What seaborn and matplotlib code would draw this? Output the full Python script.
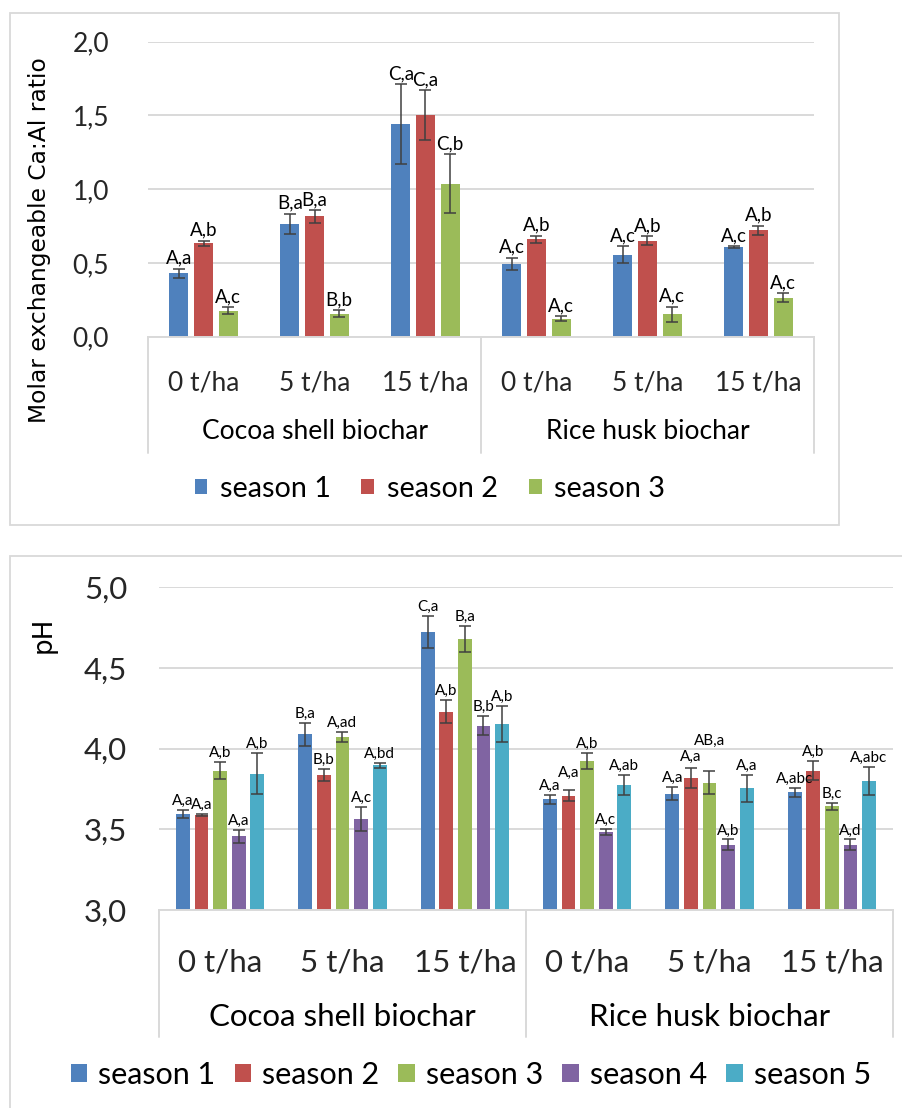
import matplotlib
matplotlib.use("Agg")
import matplotlib.pyplot as plt
import matplotlib.transforms as mtransforms
from matplotlib import font_manager
from matplotlib.patches import Rectangle, Patch
import matplotlib.colors as mcolors
import seaborn as sns
import pandas as pd
import numpy as np

# ---------------------------------------------------------------- data
doses = ["0 t/ha", "5 t/ha", "15 t/ha"]
biochars = ["Cocoa shell biochar", "Rice husk biochar"]
seasons = ["season 1", "season 2", "season 3", "season 4", "season 5"]

# Molar exchangeable Ca:Al ratio, rows = biochar x dose, cols = season 1..3
caal_mean = [
    [0.43, 0.634, 0.175],
    [0.763, 0.815, 0.156],
    [1.442, 1.503, 1.037],
    [0.494, 0.661, 0.122],
    [0.555, 0.652, 0.152],
    [0.607, 0.720, 0.265],
]
caal_err = [
    [0.030, 0.018, 0.023],
    [0.070, 0.043, 0.023],
    [0.270, 0.167, 0.200],
    [0.040, 0.023, 0.018],
    [0.057, 0.030, 0.050],
    [0.008, 0.032, 0.028],
]
caal_letters = [
    ["A,a", "A,b", "A,c"],
    ["B,a", "B,a", "B,b"],
    ["C,a", "C,a", "C,b"],
    ["A,c", "A,b", "A,c"],
    ["A,c", "A,b", "A,c"],
    ["A,c", "A,b", "A,c"],
]

# Soil pH, rows = biochar x dose, cols = season 1..5
ph_mean = [
    [3.597, 3.591, 3.862, 3.457, 3.845],
    [4.089, 3.835, 4.072, 3.564, 3.897],
    [4.723, 4.229, 4.678, 4.143, 4.153],
    [3.686, 3.709, 3.924, 3.484, 3.773],
    [3.721, 3.816, 3.789, 3.405, 3.754],
    [3.730, 3.862, 3.643, 3.405, 3.800],
]
ph_err = [
    [0.024, 0.006, 0.053, 0.040, 0.127],
    [0.072, 0.038, 0.032, 0.072, 0.016],
    [0.100, 0.071, 0.080, 0.058, 0.114],
    [0.029, 0.033, 0.050, 0.019, 0.063],
    [0.039, 0.062, 0.072, 0.032, 0.082],
    [0.029, 0.059, 0.023, 0.032, 0.088],
]
ph_letters = [
    ["A,a", "A,a", "A,b", "A,a", "A,b"],
    ["B,a", "B,b", "A,ad", "A,c", "A,bd"],
    ["C,a", "A,b", "B,a", "B,b", "A,b"],
    ["A,a", "A,a", "A,b", "A,c", "A,ab"],
    ["A,a", "A,a", "AB,a", "A,b", "A,a"],
    ["A,abc", "A,b", "B,c", "A,d", "A,abc"],
]

palette = ["#4F81BD", "#C0504D", "#9BBB59", "#8064A2", "#4BACC6"]

# ---------------------------------------------------------------- style
sns.set_theme(style="white")


def pick(*names):
    have = {f.name for f in font_manager.fontManager.ttflist}
    for n in names:
        if n in have:
            return n
    return "DejaVu Sans"


BODY = pick("Lato", "Open Sans")
NARROW = pick("Liberation Sans Narrow")
plt.rcParams["font.family"] = [BODY, "DejaVu Sans"]
plt.rcParams["text.color"] = "black"

GRID = "#D9D9D9"
ERR = "#404040"

W, H = 903, 1108
fig = plt.figure(figsize=(W / 100, H / 100), dpi=100)


def fx(px):
    return px / W


def fy(py):
    return 1 - py / H


cat_keys = [f"{b}|{d}" for b in biochars for d in doses]


def long_frame(means, n_season):
    rows = []
    for i, key in enumerate(cat_keys):
        for j in range(n_season):
            rows.append({"cat": key, "season": seasons[j], "value": means[i][j]})
    return pd.DataFrame(rows)


def draw_panel(ax, means, errs, letters, n_season, width, gap, ylim, yticks,
               tick_size, ytick_pad, xtick_pad, group_y, table_y, label_size,
               capsize, lift=None):
    lift = lift or {}
    df = long_frame(means, n_season)
    pal = palette[:n_season]
    sns.barplot(data=df, x="cat", y="value", hue="season", order=cat_keys,
                hue_order=seasons[:n_season], palette=pal, width=width, gap=gap,
                saturation=1, errorbar=None, linewidth=0, legend=False, ax=ax)
    ax.set_xlim(-0.5, len(cat_keys) - 0.5)
    ax.set_ylim(*ylim)

    # error bars and significance letters sit on each drawn bar
    rgb = [mcolors.to_rgb(c) for c in pal]
    for patch in ax.patches:
        fc = mcolors.to_rgb(patch.get_facecolor())
        j = int(np.argmin([np.sum((np.array(fc) - np.array(c)) ** 2) for c in rgb]))
        cx = patch.get_x() + patch.get_width() / 2
        i = int(round(cx))
        m, e = means[i][j], errs[i][j]
        ax.errorbar(cx, m, yerr=e, fmt="none", ecolor=ERR, elinewidth=1.1,
                    capsize=capsize, capthick=1.1, zorder=4)
        ax.annotate(letters[i][j], (cx, m + e),
                    xytext=(0, 1.5 + lift.get((i, j), 0)),
                    textcoords="offset points", ha="center", va="bottom",
                    fontsize=label_size, zorder=5)

    ax.set_yticks(yticks)
    ax.set_yticklabels([f"{t:.1f}".replace(".", ",") for t in yticks])
    ax.yaxis.grid(True, color=GRID, linewidth=1.4)
    ax.xaxis.grid(False)
    ax.set_axisbelow(True)
    for s in ["top", "right", "left"]:
        ax.spines[s].set_visible(False)
    ax.spines["bottom"].set_color(GRID)
    ax.spines["bottom"].set_linewidth(1.4)

    ax.set_xticks(range(len(cat_keys)))
    ax.set_xticklabels([k.split("|")[1] for k in cat_keys])
    ax.tick_params(axis="x", length=0, pad=xtick_pad, labelsize=tick_size)
    ax.tick_params(axis="y", length=0, pad=ytick_pad, labelsize=tick_size)
    ax.set_xlabel("")
    ax.set_ylabel("")

    # two-level category axis: biochar names and separators underneath
    trans = mtransforms.blended_transform_factory(ax.transData, ax.transAxes)
    for gi, b in enumerate(biochars):
        ax.text(gi * 3 + 1, group_y, b, transform=trans, ha="center",
                va="center", fontsize=tick_size)
    for xb in [-0.5, 2.5, 5.5]:
        ax.plot([xb, xb], [0, table_y], transform=trans, color=GRID,
                linewidth=1.4, clip_on=False, zorder=1)


ylab_family = [NARROW, "DejaVu Sans"]
ylab_size = 22 if NARROW != "DejaVu Sans" else 16.8

# ---------------------------------------------------------------- top panel
top0, top2 = 336.7, 41.7
ax1 = fig.add_axes([fx(148), fy(top0), fx(814) - fx(148), (top0 - top2) / H])
draw_panel(ax1, caal_mean, caal_err, caal_letters, 3, width=0.667, gap=0.22,
           ylim=(0, 2.0), yticks=[0, 0.5, 1.0, 1.5, 2.0], tick_size=19,
           ytick_pad=28, xtick_pad=24, group_y=(top0 - 432) / (top0 - top2),
           table_y=(top0 - 453) / (top0 - top2), label_size=13.5, capsize=4.5)

fig.text(fx(40), fy(240), "Molar exchangeable Ca:Al ratio", rotation=90,
         ha="center", va="center", fontsize=ylab_size, family=ylab_family)

handles1 = [Patch(facecolor=palette[j], edgecolor="none") for j in range(3)]
fig.legend(handles1, seasons[:3], loc="center", bbox_to_anchor=(fx(430), fy(489)),
           ncol=3, frameon=False, fontsize=20.7, handlelength=0.45,
           handleheight=0.45, handletextpad=0.45, columnspacing=1.05)

fig.add_artist(Rectangle((fx(10), fy(525)), fx(839) - fx(10), (525 - 13) / H,
                         transform=fig.transFigure, fill=False, edgecolor=GRID,
                         linewidth=1.3))

# ---------------------------------------------------------------- bottom panel
bot3, bot5 = 910, 587.3
ax2 = fig.add_axes([fx(159), fy(bot3), fx(893) - fx(159), (bot3 - bot5) / H])
draw_panel(ax2, ph_mean, ph_err, ph_letters, 5, width=0.76, gap=0.26,
           ylim=(3.0, 5.0), yticks=[3.0, 3.5, 4.0, 4.5, 5.0], tick_size=22.5,
           ytick_pad=23, xtick_pad=28, group_y=(bot3 - 1017) / (bot3 - bot5),
           table_y=(bot3 - 1037) / (bot3 - bot5), label_size=11, capsize=4.5,
           lift={(3, 1): 6, (4, 1): 2, (4, 2): 15})

fig.text(fx(44), fy(635), "pH", rotation=90, ha="center", va="center",
         fontsize=ylab_size + 2, family=ylab_family)

handles2 = [Patch(facecolor=palette[j], edgecolor="none") for j in range(5)]
fig.legend(handles2, seasons, loc="center", bbox_to_anchor=(fx(471), fy(1075)),
           ncol=5, frameon=False, fontsize=22, handlelength=0.55,
           handleheight=0.55, handletextpad=0.36, columnspacing=0.62)

fig.add_artist(Rectangle((fx(10), fy(1130)), fx(940) - fx(10), (1130 - 556) / H,
                         transform=fig.transFigure, fill=False, edgecolor=GRID,
                         linewidth=1.3))

fig.savefig("out.png", dpi=100, facecolor="white")
